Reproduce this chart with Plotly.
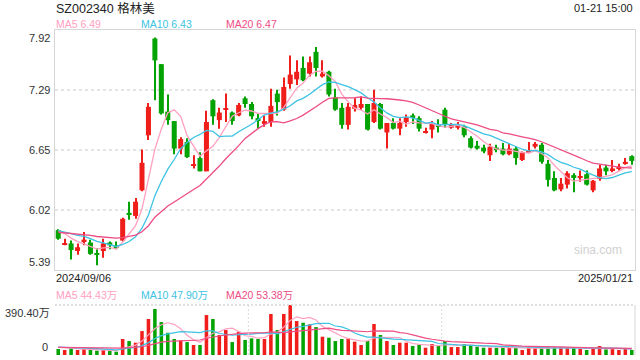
import plotly.graph_objects as go
import pandas as pd

# ---------------- data ----------------
title_text = "SZ002340 格林美"
time_text = "01-21 15:00"
first_date = "2024/09/06"
last_date = "2025/01/21"

opens = [5.81, 5.66, 5.67, 5.59, 5.69, 5.68, 5.56, 5.59, 5.68, 5.65,
         5.70, 5.99, 5.96, 6.23, 6.81, 7.83, 7.56, 7.06, 6.96, 6.67,
         6.74, 6.49, 6.57, 6.43, 7.18, 6.97, 7.08, 7.05, 7.02, 7.20,
         7.14, 6.99, 6.93, 6.95, 7.25, 7.08, 7.35, 7.40, 7.52, 7.46,
         7.69, 7.43, 7.48, 7.21, 7.10, 6.92, 7.09, 7.10, 7.14, 6.95,
         7.14, 6.84, 6.94, 6.88, 6.95, 7.02, 6.99, 6.84, 6.87, 6.92,
         7.08, 6.89, 6.89, 6.90, 6.78, 6.70, 6.68, 6.60, 6.68, 6.67,
         6.61, 6.67, 6.55, 6.63, 6.69, 6.71, 6.51, 6.36, 6.24, 6.29,
         6.39, 6.36, 6.40, 6.23, 6.35, 6.47, 6.44, 6.46, 6.51, 6.59]
highs = [5.82, 5.72, 5.70, 5.67, 5.79, 5.71, 5.62, 5.72, 5.69, 5.69,
         5.94, 6.11, 6.15, 6.66, 7.15, 7.84, 7.56, 7.24, 6.96, 6.79,
         6.78, 6.60, 6.63, 7.07, 7.19, 7.10, 7.25, 7.06, 7.15, 7.22,
         7.16, 7.04, 7.02, 7.30, 7.29, 7.42, 7.65, 7.60, 7.64, 7.64,
         7.74, 7.60, 7.49, 7.30, 7.15, 7.15, 7.20, 7.22, 7.14, 7.29,
         7.15, 6.94, 6.99, 6.99, 7.03, 7.04, 7.01, 6.89, 6.96, 6.98,
         7.10, 6.94, 6.95, 6.92, 6.80, 6.75, 6.71, 6.72, 6.71, 6.73,
         6.72, 6.69, 6.64, 6.74, 6.74, 6.73, 6.55, 6.43, 6.36, 6.43,
         6.41, 6.44, 6.44, 6.34, 6.50, 6.50, 6.55, 6.51, 6.57, 6.60]
lows = [5.71, 5.65, 5.50, 5.55, 5.65, 5.55, 5.44, 5.52, 5.61, 5.61,
        5.69, 5.92, 5.93, 6.22, 6.76, 7.18, 7.03, 6.92, 6.61, 6.61,
        6.57, 6.46, 6.43, 6.43, 6.92, 6.88, 6.95, 6.92, 7.01, 7.10,
        6.98, 6.88, 6.90, 6.90, 7.02, 7.07, 7.30, 7.34, 7.38, 7.43,
        7.43, 7.42, 7.22, 7.07, 6.88, 6.87, 7.06, 7.08, 6.86, 6.94,
        6.87, 6.67, 6.87, 6.81, 6.90, 6.93, 6.85, 6.83, 6.78, 6.84,
        6.89, 6.88, 6.87, 6.79, 6.67, 6.66, 6.62, 6.54, 6.63, 6.60,
        6.60, 6.50, 6.54, 6.62, 6.67, 6.51, 6.27, 6.22, 6.22, 6.25,
        6.21, 6.32, 6.28, 6.21, 6.33, 6.39, 6.42, 6.44, 6.50, 6.50]
closes = [5.72, 5.67, 5.60, 5.63, 5.71, 5.56, 5.55, 5.67, 5.65, 5.62,
          5.93, 5.98, 6.11, 6.52, 7.11, 7.60, 7.04, 6.97, 6.67, 6.77,
          6.58, 6.50, 6.43, 6.95, 7.01, 7.05, 7.09, 6.96, 7.13, 7.14,
          7.01, 6.96, 6.96, 7.12, 7.16, 7.32, 7.45, 7.48, 7.39, 7.58,
          7.52, 7.46, 7.24, 7.08, 6.92, 7.11, 7.13, 7.14, 6.87, 7.15,
          6.88, 6.94, 6.88, 6.94, 7.00, 7.00, 6.88, 6.85, 6.93, 6.90,
          6.92, 6.92, 6.92, 6.81, 6.68, 6.67, 6.64, 6.69, 6.66, 6.61,
          6.67, 6.57, 6.63, 6.64, 6.72, 6.53, 6.34, 6.23, 6.30, 6.41,
          6.36, 6.38, 6.29, 6.33, 6.46, 6.43, 6.46, 6.48, 6.53, 6.54]
# volume in 万
volumes = [47, 39, 52, 39, 47, 39, 34, 39, 31, 26,
           125, 109, 96, 187, 281, 359, 257, 174, 125, 114,
           101, 78, 78, 312, 281, 156, 195, 101, 182, 117,
           130, 125, 125, 320, 195, 320, 390.4, 265, 252, 239,
           218, 143, 135, 109, 125, 130, 104, 78, 109, 242,
           156, 109, 78, 96, 96, 70, 78, 57, 86, 70,
           109, 62, 62, 86, 78, 65, 57, 57, 57, 57,
           57, 57, 39, 57, 52, 52, 60, 60, 60, 60,
           57, 47, 39, 47, 70, 44, 52, 39, 47, 39]
# trading days before the window (only used for the moving averages)
prior_closes = [5.80, 5.78, 5.75, 5.74, 5.76, 5.79, 5.77, 5.75, 5.78, 5.79,
                5.80, 5.79, 5.81, 5.82, 5.80, 5.83, 5.84, 5.81, 5.83]
prior_volumes = [52, 60, 48, 55, 70, 58, 50, 62, 66, 57,
                 49, 61, 72, 55, 68, 63, 58, 66, 71]

price_ticks = ["7.92", "7.29", "6.65", "6.02", "5.39"]
price_min, price_max = 5.39, 7.92
vol_max_label = "390.40万"
vol_max = 390.4
ma_labels = ["MA5 6.49", "MA10 6.43", "MA20 6.47"]
vol_ma_labels = ["MA5 44.43万", "MA10 47.90万", "MA20 53.38万"]

# ---------------- styles ----------------
RED = "#F01E1A"
GREEN = "#04A304"
MA_COLORS = ["#FFA0C0", "#3CC3E3", "#EE4C84"]
FONT = "Liberation Sans, Arial, Noto Sans CJK SC, sans-serif"
W, H = 640, 360
L_PX, R_PX = 55, 635
MAIN_TOP, MAIN_BOT = 30, 270
VOL_TOP, VOL_BOT = 305, 355

n = len(closes)
xs = list(range(n))
up = [c >= o for o, c in zip(opens, closes)]
colors = [RED if u else GREEN for u in up]

all_c = pd.Series(prior_closes + closes)
all_v = pd.Series(prior_volumes + volumes)
mas = [all_c.rolling(k).mean().tolist()[-n:] for k in (5, 10, 20)]
vmas = [all_v.rolling(k).mean().tolist()[-n:] for k in (5, 10, 20)]

fig = go.Figure()

# wicks
fig.add_trace(go.Bar(x=xs, y=[h - l for h, l in zip(highs, lows)], base=lows,
                     width=0.17, marker=dict(color=colors, line=dict(width=0)),
                     xaxis="x", yaxis="y", hoverinfo="skip", showlegend=False))
# bodies
body_h = [max(abs(c - o), 0.012) for o, c in zip(opens, closes)]
body_b = [min(o, c) for o, c in zip(opens, closes)]
fig.add_trace(go.Bar(x=xs, y=body_h, base=body_b, width=0.78,
                     marker=dict(color=colors, line=dict(width=0)),
                     xaxis="x", yaxis="y", showlegend=False))
for m, col in zip(mas, MA_COLORS):
    fig.add_trace(go.Scatter(x=xs, y=m, mode="lines", line=dict(color=col, width=1.3),
                             xaxis="x", yaxis="y", showlegend=False, hoverinfo="skip"))

# volume
fig.add_trace(go.Bar(x=xs, y=volumes, width=0.55,
                     marker=dict(color=colors, line=dict(width=0)),
                     xaxis="x2", yaxis="y2", showlegend=False))
for m, col in zip(vmas, MA_COLORS):
    fig.add_trace(go.Scatter(x=xs, y=m, mode="lines", line=dict(color=col, width=1.2),
                             xaxis="x2", yaxis="y2", showlegend=False, hoverinfo="skip"))

dom_x = [L_PX / W, R_PX / W]
main_dom = [(H - MAIN_BOT) / H, (H - MAIN_TOP) / H]
vol_dom = [(H - VOL_BOT) / H, (H - VOL_TOP) / H]
step = (price_max - price_min) / 4
grid_vals = [price_min + step * k for k in (1, 2, 3)]

fig.update_layout(
    width=W, height=H, margin=dict(l=0, r=0, t=0, b=0),
    paper_bgcolor="white", plot_bgcolor="white", barmode="overlay",
    font=dict(family=FONT, color="#333"),
    xaxis=dict(domain=dom_x, range=[-0.5, n - 0.5], showgrid=False, zeroline=False,
               showticklabels=False, ticks="", showline=True, mirror=True,
               linecolor="#d6d6d6", linewidth=1, anchor="y"),
    yaxis=dict(domain=main_dom, range=[price_min, price_max], tickvals=grid_vals,
               showticklabels=False, ticks="", showgrid=True, gridcolor="#e4e4e4",
               gridwidth=2, griddash="3px,3px", zeroline=False, showline=True,
               mirror=True, linecolor="#d6d6d6", linewidth=1, anchor="x"),
    xaxis2=dict(domain=dom_x, range=[-0.5, n - 0.5], showgrid=False, zeroline=False,
                showticklabels=False, ticks="", anchor="y2"),
    yaxis2=dict(domain=vol_dom, range=[0, vol_max], showgrid=False, zeroline=False,
                showticklabels=False, ticks="", anchor="x2"),
)

shapes = [
    dict(type="line", xref="paper", yref="paper", x0=dom_x[0], x1=dom_x[1],
         y0=vol_dom[1], y1=vol_dom[1], line=dict(color="#d8d8d8", width=1.5, dash="2px,2px")),
    dict(type="line", xref="paper", yref="paper", x0=dom_x[1], x1=dom_x[1],
         y0=vol_dom[0], y1=vol_dom[1], line=dict(color="#d6d6d6", width=1)),
]
for frac in (1 / 3, 2 / 3):
    xp = dom_x[0] + (dom_x[1] - dom_x[0]) * frac
    shapes.append(dict(type="line", xref="paper", yref="paper", x0=xp, x1=xp,
                       y0=vol_dom[0], y1=vol_dom[1],
                       line=dict(color="#d8d8d8", width=1, dash="2px,2px")))
fig.update_layout(shapes=shapes)

ann = []
def px_ann(text, x, y, xanchor="left", size=11, color="#222"):
    ann.append(dict(text=text, x=x / W, y=(H - y) / H, xref="paper", yref="paper",
                    xanchor=xanchor, yanchor="middle", showarrow=False,
                    font=dict(size=size, color=color, family=FONT)))

px_ann(title_text, 54, 8, size=12.5, color="#222")
px_ann(time_text, 635, 8, xanchor="right", size=11, color="#222")
for lab, xp, col in zip(ma_labels, (54, 139, 224), MA_COLORS):
    px_ann(lab, xp, 24, size=10.5, color=col)
for lab, xp, col in zip(vol_ma_labels, (54, 139, 224), MA_COLORS):
    px_ann(lab, xp, 295, size=10.5, color=col)
px_ann(first_date, 54, 278, size=11, color="#222")
px_ann(last_date, 635, 278, xanchor="right", size=11, color="#222")
px_ann("sina.com", 624, 250, xanchor="right", size=12, color="#d0d0d0")

tick_pos = [price_max] + grid_vals[::-1] + [price_min]
for i, (lab, v) in enumerate(zip(price_ticks, tick_pos)):
    ya = "top" if i == 0 else ("bottom" if i == len(price_ticks) - 1 else "middle")
    ann.append(dict(text=lab, x=(L_PX - 3) / W, y=v, xref="paper", yref="y",
                    xanchor="right", yanchor=ya, showarrow=False,
                    font=dict(size=11, color="#333", family=FONT)))
ann.append(dict(text=vol_max_label, x=(L_PX - 3) / W, y=vol_max, xref="paper", yref="y2",
                xanchor="right", yanchor="top", showarrow=False,
                font=dict(size=11, color="#333", family=FONT)))
ann.append(dict(text="0", x=(L_PX - 5) / W, y=0, xref="paper", yref="y2",
                xanchor="right", yanchor="bottom", showarrow=False,
                font=dict(size=11, color="#333", family=FONT)))
fig.update_layout(annotations=ann)

fig.write_html("out.html")
